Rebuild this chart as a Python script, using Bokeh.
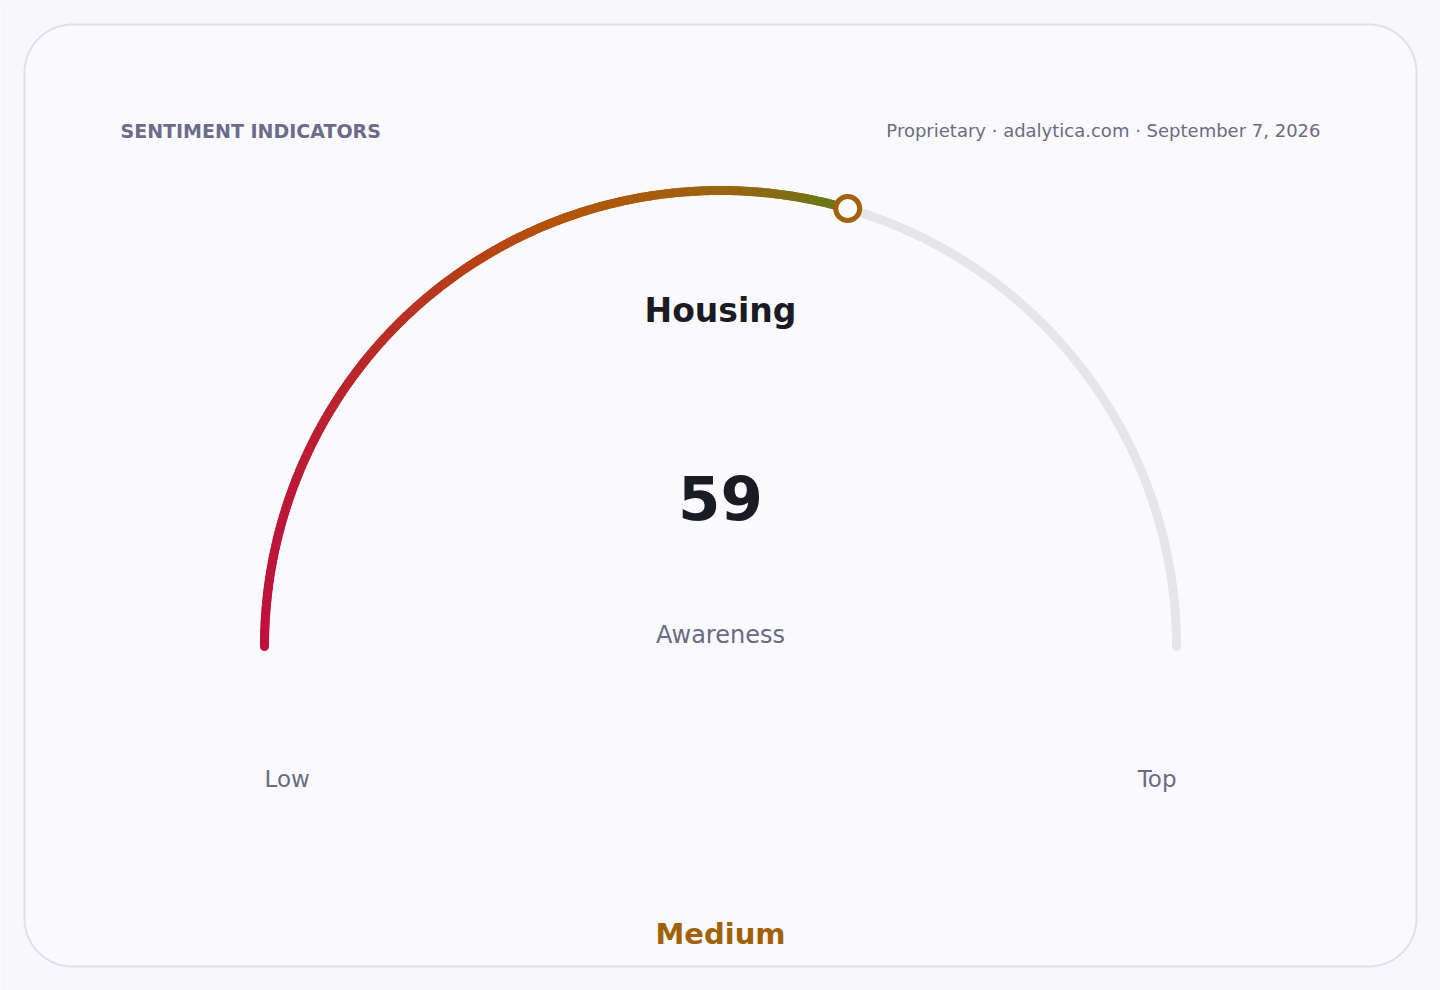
import numpy as np
from bokeh.plotting import figure
from bokeh.models import Range1d
from bokeh.embed import file_html
from bokeh.resources import INLINE
from bokeh.core.properties import value

# ---- data ----
title = "SENTIMENT INDICATORS"
source_note = "Proprietary · adalytica.com · September 7, 2026"
metric_name = "Housing"
metric_value = 59
metric_label = "Awareness"
scale_min = 0
scale_max = 100
scale_labels = ["Low", "Top"]
band_label = "Medium"
grad_stops = [0.0, 0.5, 0.8, 1.0]
grad_colors = ["#be123c", "#b45309", "#9a640e", "#65781a"]

# ---- styling ----
W, H = 1440, 990
BG = "#f8f8fc"
CARD = "#fafafe"
FONT = value("DejaVu Sans")
MUTED = "#6b6b82"
DARK = "#1b1b24"
ACCENT = "#a16207"
TRACK = "#e5e5ea"

cx, cy, R = 720, 344, 456

p = figure(width=W, height=H, x_range=Range1d(0, W), y_range=Range1d(0, H),
           output_backend="svg", toolbar_location=None, min_border=0,
           x_axis_type=None, y_axis_type=None,
           background_fill_color=BG, border_fill_color=BG, outline_line_color=None)
p.grid.visible = False

# card with rounded corners
x0, x1, y0, y1, cr = 24, 1416, 24, 966, 48
def corner(xc, yc, a0, a1):
    t = np.linspace(a0, a1, 24)
    return list(xc + cr * np.cos(t)), list(yc + cr * np.sin(t))
xs, ys = [], []
for (xc, yc, a0, a1) in [(x1 - cr, y0 + cr, -np.pi / 2, 0), (x1 - cr, y1 - cr, 0, np.pi / 2),
                         (x0 + cr, y1 - cr, np.pi / 2, np.pi), (x0 + cr, y0 + cr, np.pi, 1.5 * np.pi)]:
    a, b = corner(xc, yc, a0, a1)
    xs += a; ys += b
p.patch(xs, ys, fill_color=CARD, line_color="#e0e0ec", line_width=2)

# gauge
def ang(v):
    return np.pi * (1 - (v - scale_min) / (scale_max - scale_min))

# track
t_track = np.linspace(ang(metric_value), ang(scale_max), 200)
p.line(cx + R * np.cos(t_track), cy + R * np.sin(t_track), line_color=TRACK,
       line_width=9, line_cap="round")

# gradient value arc
def hex2rgb(h):
    return np.array([int(h[i:i + 2], 16) for i in (1, 3, 5)], dtype=float)
stops_rgb = np.array([hex2rgb(c) for c in grad_colors])
def color_at(f):
    rgb = [np.interp(f, grad_stops, stops_rgb[:, k]) for k in range(3)]
    return "#%02x%02x%02x" % tuple(int(round(v)) for v in rgb)

N = 220
t_val = np.linspace(ang(scale_min), ang(metric_value), N + 1)
px = cx + R * np.cos(t_val)
py = cy + R * np.sin(t_val)
xstart, xend = px[0], px[-1]
seg_x, seg_y, seg_c = [], [], []
for i in range(N):
    seg_x.append([px[i], px[i + 1]])
    seg_y.append([py[i], py[i + 1]])
    f = ((px[i] + px[i + 1]) / 2 - xstart) / (xend - xstart)
    seg_c.append(color_at(f))
p.multi_line(seg_x, seg_y, line_color=seg_c, line_width=9, line_cap="round")

# marker
mx, my = cx + R * np.cos(ang(metric_value)), cy + R * np.sin(ang(metric_value))
p.scatter([mx], [my], size=24, fill_color=CARD, line_color=ACCENT, line_width=5)

# texts
p.text([120], [860], text=[title], text_font=FONT, text_font_size="19px",
       text_font_style="bold", text_color="#6c6c8a", text_align="left", text_baseline="middle")
p.text([1320], [860], text=[source_note], text_font=FONT, text_font_size="18px",
       text_color=MUTED, text_align="right", text_baseline="middle")
p.text([cx], [680], text=[metric_name], text_font=FONT, text_font_size="33px",
       text_font_style="bold", text_color=DARK, text_align="center", text_baseline="middle")
p.text([cx], [493], text=[str(metric_value)], text_font=FONT, text_font_size="61px",
       text_font_style="bold", text_color=DARK, text_align="center", text_baseline="middle")
p.text([cx], [356], text=[metric_label], text_font=FONT, text_font_size="24px",
       text_color=MUTED, text_align="center", text_baseline="middle")
p.text([cx - R], [212], text=[scale_labels[0]], text_font=FONT, text_font_size="23px",
       text_color=MUTED, text_align="left", text_baseline="middle")
p.text([cx + R], [212], text=[scale_labels[1]], text_font=FONT, text_font_size="23px",
       text_color=MUTED, text_align="right", text_baseline="middle")
p.text([cx], [57], text=[band_label], text_font=FONT, text_font_size="29px",
       text_font_style="bold", text_color=ACCENT, text_align="center", text_baseline="middle")

open("out.html", "w").write(file_html(p, INLINE))
